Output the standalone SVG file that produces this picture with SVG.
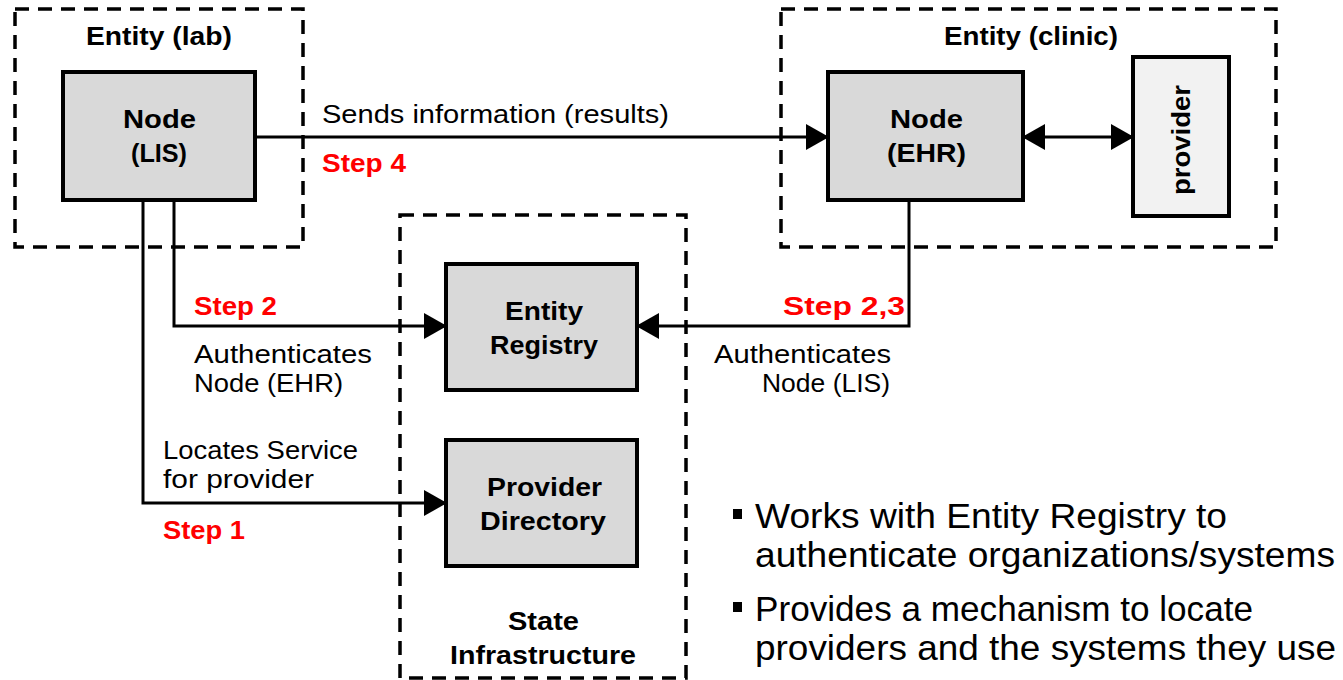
<svg xmlns="http://www.w3.org/2000/svg" width="1343" height="680" viewBox="0 0 1343 680">
<style>
.dash{fill:none;stroke:#000;stroke-width:3.5;stroke-dasharray:14 9}
.node{fill:#D9D9D9;stroke:#000;stroke-width:4}
.prov{fill:#F2F2F2;stroke:#000;stroke-width:4}
.conn{fill:none;stroke:#000;stroke-width:3}
text{font-family:"Liberation Sans",Arial,sans-serif}
.b{font-weight:bold;font-size:25px;fill:#000}
.t{font-size:26px;fill:#000}
.r{font-weight:bold;font-size:25px;fill:#FF0000}
.bul{font-size:35px;fill:#000}
</style>
<defs>
<marker id="ah" markerUnits="userSpaceOnUse" markerWidth="24" markerHeight="26" refX="22" refY="13" orient="auto-start-reverse">
<path d="M0,0 L23,13 L0,26 Z" fill="#000"/>
</marker>
</defs>
<g id="entity-lab">
<rect class="dash" x="15" y="9" width="288" height="238"/>
<text class="b" x="86" y="45" textLength="146" lengthAdjust="spacingAndGlyphs">Entity (lab)</text>
</g>
<g id="entity-clinic">
<rect class="dash" x="781" y="9" width="495" height="238"/>
<text class="b" x="944" y="45" textLength="174" lengthAdjust="spacingAndGlyphs">Entity (clinic)</text>
</g>
<g id="state-infra">
<rect class="dash" x="400" y="215" width="286" height="463"/>
<text class="b" x="508" y="630" textLength="71" lengthAdjust="spacingAndGlyphs">State</text>
<text class="b" x="450" y="664" textLength="186" lengthAdjust="spacingAndGlyphs">Infrastructure</text>
</g>
<g id="connectors">
<path class="conn" d="M255,137 H828" marker-end="url(#ah)"/>
<path class="conn" d="M1023,137 H1133" marker-start="url(#ah)" marker-end="url(#ah)"/>
<path class="conn" d="M174,200 V326 H446" marker-end="url(#ah)"/>
<path class="conn" d="M143,200 V503 H446" marker-end="url(#ah)"/>
<path class="conn" d="M909,200 V326 H637" marker-end="url(#ah)"/>
<text class="t" x="322" y="123" textLength="347" lengthAdjust="spacingAndGlyphs">Sends information (results)</text>
<text class="r" x="322" y="172" textLength="84" lengthAdjust="spacingAndGlyphs">Step 4</text>
<text class="r" x="194" y="315" textLength="83" lengthAdjust="spacingAndGlyphs">Step 2</text>
<text class="t" x="194" y="363" textLength="178" lengthAdjust="spacingAndGlyphs">Authenticates</text>
<text class="t" x="194" y="392" textLength="149" lengthAdjust="spacingAndGlyphs">Node (EHR)</text>
<text class="t" x="163" y="459" textLength="195" lengthAdjust="spacingAndGlyphs">Locates Service</text>
<text class="t" x="163" y="488" textLength="151" lengthAdjust="spacingAndGlyphs">for provider</text>
<text class="r" x="163" y="539" textLength="82" lengthAdjust="spacingAndGlyphs">Step 1</text>
<text class="r" x="783" y="315" textLength="122" lengthAdjust="spacingAndGlyphs">Step 2,3</text>
<text class="t" x="714" y="363" textLength="177" lengthAdjust="spacingAndGlyphs">Authenticates</text>
<text class="t" x="762" y="392" textLength="128" lengthAdjust="spacingAndGlyphs">Node (LIS)</text>
</g>
<g id="node-lis">
<rect class="node" x="63" y="72" width="192" height="128"/>
<text class="b" x="123" y="128" textLength="73" lengthAdjust="spacingAndGlyphs">Node</text>
<text class="b" x="131" y="162" textLength="56" lengthAdjust="spacingAndGlyphs">(LIS)</text>
</g>
<g id="node-ehr">
<rect class="node" x="828" y="72" width="195" height="128"/>
<text class="b" x="890" y="128" textLength="73" lengthAdjust="spacingAndGlyphs">Node</text>
<text class="b" x="887" y="162" textLength="79" lengthAdjust="spacingAndGlyphs">(EHR)</text>
</g>
<g id="provider">
<rect class="prov" x="1133" y="57" width="96" height="159"/>
<text class="b" transform="translate(1190,195) rotate(-90)" textLength="110" lengthAdjust="spacingAndGlyphs">provider</text>
</g>
<g id="entity-registry">
<rect class="node" x="446" y="264" width="191" height="126"/>
<text class="b" x="505" y="320" textLength="78" lengthAdjust="spacingAndGlyphs">Entity</text>
<text class="b" x="490" y="354" textLength="108" lengthAdjust="spacingAndGlyphs">Registry</text>
</g>
<g id="provider-directory">
<rect class="node" x="446" y="440" width="191" height="126"/>
<text class="b" x="487" y="496" textLength="115" lengthAdjust="spacingAndGlyphs">Provider</text>
<text class="b" x="480" y="530" textLength="126" lengthAdjust="spacingAndGlyphs">Directory</text>
</g>
<g id="bullets">
<rect x="733" y="509" width="9" height="10" fill="#000"/>
<text class="bul" x="755" y="528" textLength="472" lengthAdjust="spacingAndGlyphs">Works with Entity Registry to</text>
<text class="bul" x="755" y="567" textLength="580" lengthAdjust="spacingAndGlyphs">authenticate organizations/systems</text>
<rect x="733" y="602" width="9" height="10" fill="#000"/>
<text class="bul" x="755" y="621" textLength="498" lengthAdjust="spacingAndGlyphs">Provides a mechanism to locate</text>
<text class="bul" x="755" y="660" textLength="581" lengthAdjust="spacingAndGlyphs">providers and the systems they use</text>
</g>
</svg>
